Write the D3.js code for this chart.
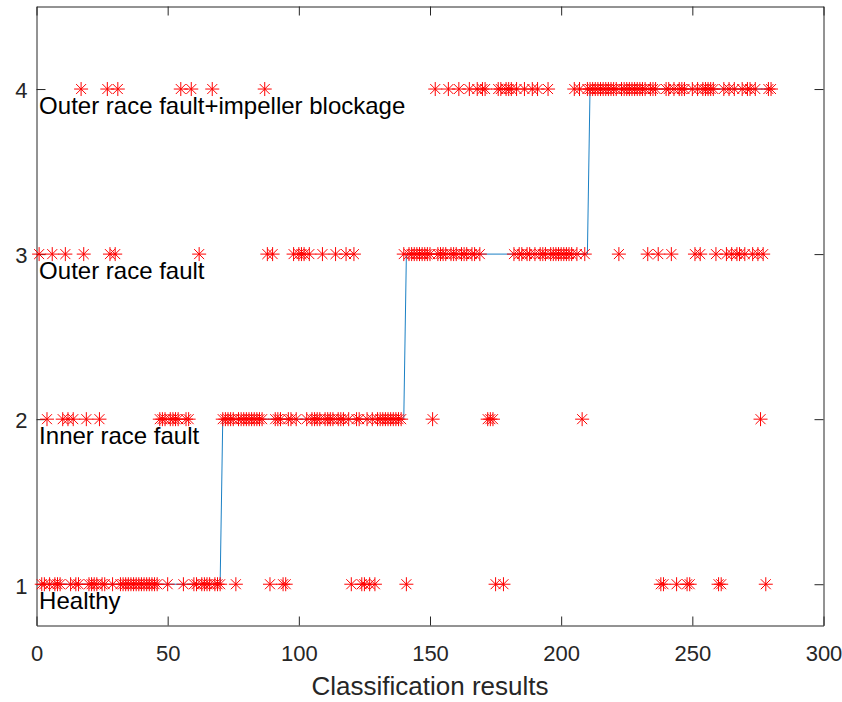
<!DOCTYPE html>
<html>
<head>
<meta charset="utf-8">
<script src="https://cdn.jsdelivr.net/npm/d3@7"></script>
<style>
  html, body { margin: 0; padding: 0; background: #ffffff; }
  svg { display: block; }
</style>
</head>
<body>
<div id="chart"></div>
<script>
// ---------------- data ----------------
const xTicks = [0, 50, 100, 150, 200, 250, 300];
const yTicks = [1, 2, 3, 4];
const classNames = ["Healthy", "Inner race fault", "Outer race fault", "Outer race fault+impeller blockage"];
const classValues = [1, 2, 3, 4];
// true label (step line)
const trueX = [1, 70, 71, 140, 141, 210, 211, 280];
const trueY = [1, 1, 2, 2, 3, 3, 4, 4];
// predicted label for samples 1..280
const predicted = [
  3,1,1,2,1,3,1,1,1,2,  3,2,1,2,1,1,4,3,2,1,
  1,1,1,2,1,1,4,3,1,3,  4,1,1,1,1,1,1,1,1,1,
  1,1,1,1,1,1,2,2,2,1,  2,2,2,2,4,1,2,2,4,1,
  1,3,1,1,1,1,4,1,1,1,
  2,2,2,2,2,1,2,2,2,2,  2,2,2,2,2,2,4,3,1,3,
  2,2,2,1,1,2,2,3,2,3,  3,3,2,3,2,2,2,2,3,2,
  2,2,2,3,2,2,2,3,2,1,  3,2,2,1,1,2,1,2,1,2,
  2,2,2,2,2,2,2,2,2,3,
  1,3,3,3,3,3,3,3,3,3,  2,4,3,3,3,3,4,3,3,3,
  4,3,3,3,4,3,3,4,3,4,  4,2,2,2,1,4,4,1,4,4,
  4,3,4,3,3,4,3,3,4,3,  4,3,3,3,4,3,3,3,3,3,
  3,3,3,3,4,3,4,2,3,4,
  4,4,4,4,4,4,4,4,4,4,  4,3,4,4,4,4,4,4,4,4,
  4,4,3,4,4,4,3,1,1,4,  4,3,4,1,4,4,4,1,1,4,
  3,4,3,4,4,4,4,4,3,1,  1,4,3,4,3,4,3,3,4,3,
  4,4,3,4,3,2,3,1,4,4
];
const xLabel = "Classification results";

// ---------------- layout ----------------
const W = 842, H = 702;
const mLeft = 36.5, mRight = 823.5, mTop = 6.5, mBottom = 625.5;

const svg = d3.select("#chart").append("svg")
  .attr("width", W).attr("height", H)
  .style("font-family", "'Liberation Sans', Arial, Helvetica, sans-serif");

svg.append("rect").attr("width", W).attr("height", H).attr("fill", "#ffffff");

const x = d3.scaleLinear().domain([0, 300]).range([mLeft, mRight]);
const y = d3.scaleLinear().domain([0.75, 4.5]).range([mBottom, mTop]);

const axisColor = "#262626";
const tickLen = 9;

function styleAxis(g) {
  g.select(".domain").attr("stroke", axisColor).attr("stroke-width", 1);
  g.selectAll(".tick line").attr("stroke", axisColor).attr("stroke-width", 1);
  g.selectAll(".tick text").attr("fill", axisColor).style("font-size", "22px")
    .style("font-family", "'Liberation Sans', Arial, Helvetica, sans-serif");
}

// bottom axis
svg.append("g").attr("transform", `translate(0,${mBottom})`)
  .call(d3.axisBottom(x).tickValues(xTicks).tickFormat(d3.format("d"))
    .tickSizeInner(-tickLen).tickSizeOuter(0).tickPadding(20))
  .call(styleAxis);
// top axis
svg.append("g").attr("transform", `translate(0,${mTop})`)
  .call(d3.axisTop(x).tickValues(xTicks).tickFormat("")
    .tickSizeInner(-tickLen).tickSizeOuter(0))
  .call(styleAxis);
// left axis
const gl = svg.append("g").attr("transform", `translate(${mLeft},0)`)
  .call(d3.axisLeft(y).tickValues(yTicks).tickFormat(d3.format("d"))
    .tickSizeInner(-tickLen).tickSizeOuter(0).tickPadding(9))
  .call(styleAxis);
gl.selectAll(".tick text").attr("dy", "0.40em");
// right axis
svg.append("g").attr("transform", `translate(${mRight},0)`)
  .call(d3.axisRight(y).tickValues(yTicks).tickFormat("")
    .tickSizeInner(-tickLen).tickSizeOuter(0))
  .call(styleAxis);

// true label line
const trueData = trueX.map((v, i) => [v, trueY[i]]);
svg.append("path")
  .datum(trueData)
  .attr("fill", "none")
  .attr("stroke", "#0072BD")
  .attr("stroke-width", 0.9)
  .attr("d", d3.line().x(d => x(d[0])).y(d => y(d[1])));

// predicted asterisks
const star = "M-7,0H7M0,-7V7M-5,-5L5,5M-5,5L5,-5";
svg.append("g").selectAll("path")
  .data(predicted)
  .join("path")
  .attr("transform", (d, i) => `translate(${x(i + 1)},${y(d)})`)
  .attr("d", star)
  .attr("fill", "none")
  .attr("stroke", "#FF0000")
  .attr("stroke-width", 1);

// class labels
svg.append("g").selectAll("text")
  .data(classValues)
  .join("text")
  .attr("x", x(1))
  .attr("y", d => y(d - 0.1))
  .attr("dy", "0.36em")
  .attr("fill", "#000000")
  .style("font-size", "24px")
  .text((d, i) => classNames[i]);

// x label
svg.append("text")
  .attr("x", (mLeft + mRight) / 2)
  .attr("y", 695)
  .attr("text-anchor", "middle")
  .attr("fill", axisColor)
  .style("font-size", "26px")
  .text(xLabel);
</script>
</body>
</html>
